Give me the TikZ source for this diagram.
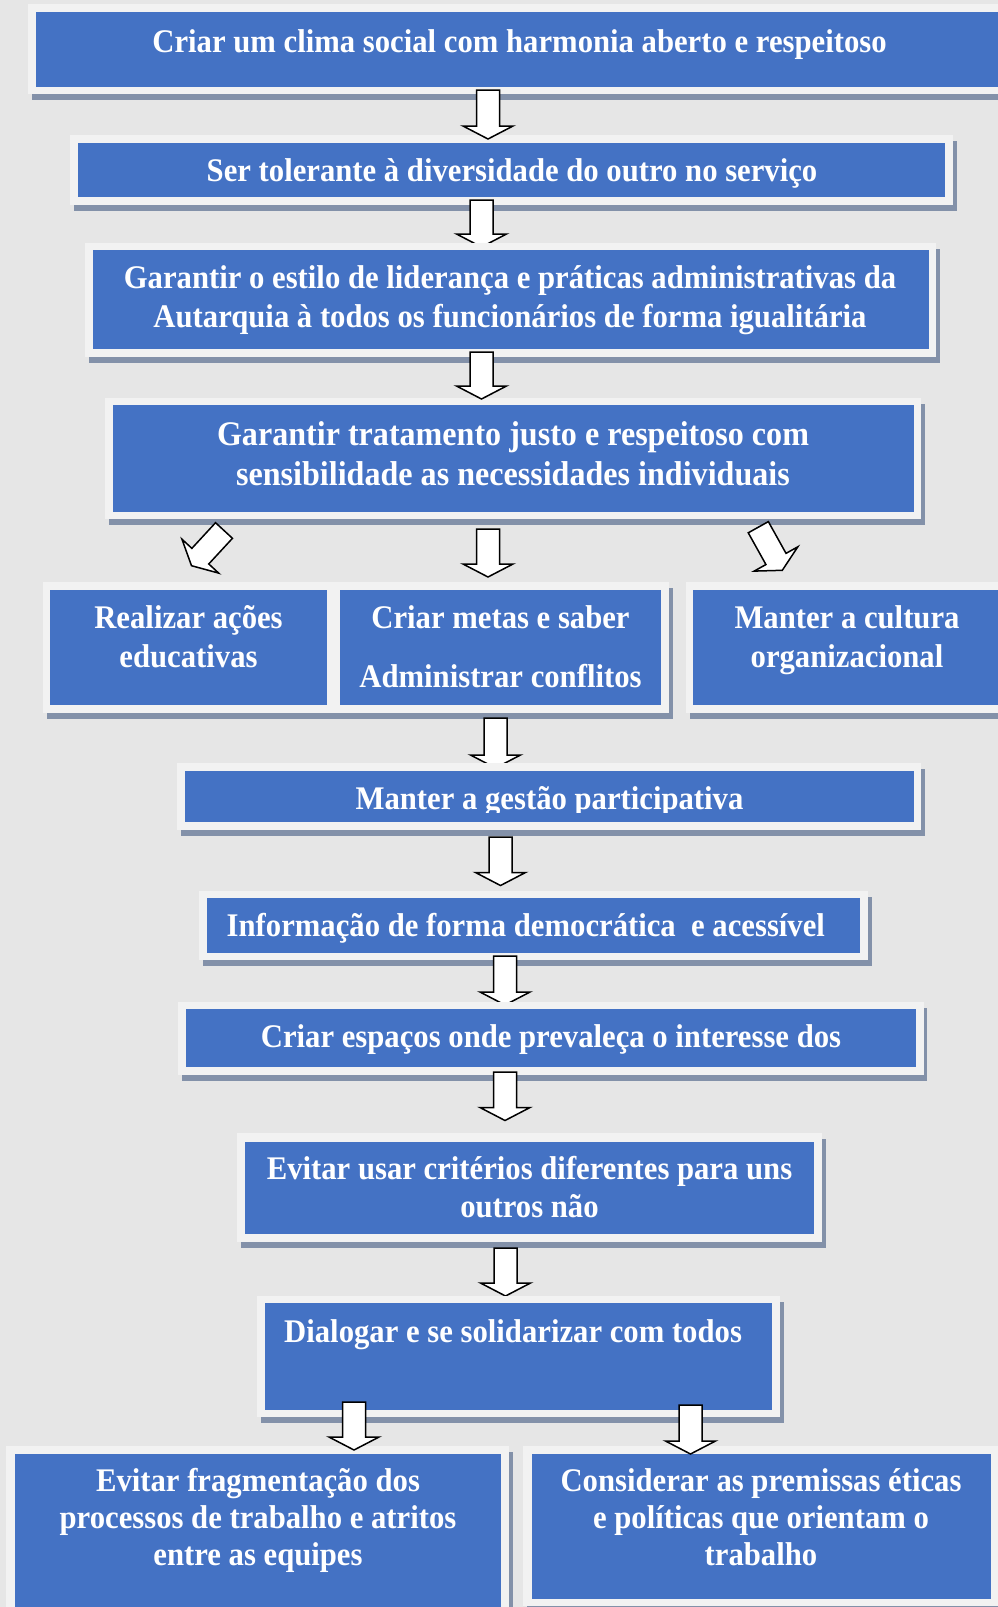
\documentclass[tikz,border=0pt]{standalone}
\usepackage{fontspec}
\setmainfont[FakeStretch=0.93]{Liberation Serif}
\usetikzlibrary{calc}
\definecolor{bgc}{HTML}{E6E6E6}
\definecolor{framec}{HTML}{F2F2F2}
\definecolor{shadc}{HTML}{8391A9}
\definecolor{boxc}{HTML}{4472C4}
\tikzset{
  bluebox/.style={fill=boxc, draw=none, inner sep=0pt, outer sep=0pt},
  barrow/.style={fill=white, draw=black, line width=1.5pt, line join=miter},
  txt/.style={text=white, font=\fontsize{33}{39}\selectfont\bfseries, inner sep=0pt, anchor=base},
  txtbig/.style={txt, font=\fontsize{34.5}{40}\selectfont\bfseries},
  txtw/.style={txt, anchor=base west}
}
\newcommand\mybox[9]{%
  \fill[shadc] ({#2+3.5},{#3+5.5}) rectangle ({#4+3.5},{#5+5.5});
  \fill[framec] (#2,#3) rectangle (#4,#5);
  \node[bluebox, minimum width={#8-#6}, minimum height={#9-#7}] (#1) at ({(#6+#8)/2},{(#7+#9)/2}) {};
}
\newcommand\blockarrow[2]{%
  \path ($(#2)!13pt!(#1)$) coordinate (hb);
  \draw[barrow] ($(#1)!11.5pt!90:(#2)$) -- ($(hb)!11.5pt!90:(#2)$) -- ($(hb)!25pt!90:(#2)$) -- (#2)
    -- ($(hb)!25pt!-90:(#2)$) -- ($(hb)!11.5pt!-90:(#2)$) -- ($(#1)!11.5pt!-90:(#2)$) -- cycle;
}
\begin{document}
\begin{tikzpicture}[x=1pt, y=-1pt]
\useasboundingbox (0,0) rectangle (998,1607);
\clip (0,0) rectangle (998,1607);
\fill[bgc] (0,0) rectangle (998,1607);

% arrow end points
\coordinate (a1s) at (488,90);    \coordinate (a1e) at (488,139);
\coordinate (a2s) at (481.5,200); \coordinate (a2e) at (481.5,247);
\coordinate (a3s) at (481.5,352); \coordinate (a3e) at (481.5,399);
\coordinate (a4s) at (488,529);   \coordinate (a4e) at (488,577);
\coordinate (a5s) at (224,530.5); \coordinate (a5e) at (191.5,565.7);
\coordinate (a6s) at (758.3,527.2); \coordinate (a6e) at (782.3,570.3);
\coordinate (a7s) at (495.5,718); \coordinate (a7e) at (495.5,768);
\coordinate (a8s) at (500.5,837); \coordinate (a8e) at (500.5,885.5);
\coordinate (a9s) at (505,956);   \coordinate (a9e) at (505,1005);
\coordinate (a10s) at (505,1072); \coordinate (a10e) at (505,1120.5);
\coordinate (a11s) at (505.5,1248); \coordinate (a11e) at (505.5,1296);
\coordinate (a12s) at (354,1402); \coordinate (a12e) at (354,1450);
\coordinate (a13s) at (690.5,1405); \coordinate (a13e) at (690.5,1454);

\mybox{b1}{28}{4}{1008}{94}{36}{12}{1000}{87}
\mybox{b2}{70}{135}{953}{205}{78}{143}{945}{197}
\blockarrow{a1s}{a1e}
\blockarrow{a2s}{a2e}
\mybox{b3}{85}{243}{936}{357}{93}{250}{929}{349}
\mybox{b4}{105}{398}{921}{519}{113}{405}{914}{512}
\blockarrow{a3s}{a3e}
\blockarrow{a4s}{a4e}
\blockarrow{a5s}{a5e}
\blockarrow{a6s}{a6e}
\mybox{r1}{43}{582}{334}{713}{50}{590}{327}{705}
\mybox{r2}{332}{582}{669}{713}{340}{590}{661}{705}
\mybox{r3}{686}{582}{1010}{713}{693}{590}{1003}{705}
\blockarrow{a7s}{a7e}
\mybox{b5}{177}{763}{921}{830}{185}{771}{914}{822}
\blockarrow{a8s}{a8e}
\mybox{b6}{199}{891}{868}{960}{207}{898}{860}{953}
\blockarrow{a9s}{a9e}
\mybox{b7}{178}{1002}{923.5}{1075}{186}{1009}{916}{1067}
\blockarrow{a10s}{a10e}
\mybox{b8}{237}{1133}{822}{1242}{245}{1142}{814}{1234}
\blockarrow{a11s}{a11e}
\mybox{b9}{257}{1296}{780}{1417}{265}{1303}{772}{1410}
\mybox{b10}{6}{1446}{509}{1614}{15}{1454}{501}{1608}
\mybox{b11}{523}{1446}{999}{1606}{531.5}{1454}{991}{1599}
\blockarrow{a12s}{a12e}
\blockarrow{a13s}{a13e}

% texts
\node[txt] (t1) at (519.5,52) {Criar um clima social com harmonia aberto e respeitoso};
\node[txt] (t2) at (512,181.7) {Ser tolerante à diversidade do outro no serviço};
\node[txt] (t3a) at (510,288) {Garantir o estilo de liderança e práticas administrativas da};
\node[txt] (t3b) at (510,327) {Autarquia à todos os funcionários de forma igualitária};
\node[txtbig] (t4a) at (513,445) {Garantir tratamento justo e respeitoso com};
\node[txtbig] (t4b) at (513,485) {sensibilidade as necessidades individuais};
\node[txt] (t5a) at (188.5,628) {Realizar ações};
\node[txt] (t5b) at (188.5,667) {educativas};
\node[txt] (t6a) at (500.5,628) {Criar metas e saber};
\node[txt] (t6b) at (500.5,687) {Administrar conflitos};
\node[txt] (t7a) at (847,628) {Manter a cultura};
\node[txt] (t7b) at (847,667) {organizacional};
\begin{scope}
\clip (185,771) rectangle (914,812);
\node[txt] (t8) at (549.5,809) {Manter a gestão participativa};
\end{scope}
\node[txtw] (t9) at (226.5,936) {Informação de forma democrática\ \ e acessível};
\node[txt] (t10) at (551,1047) {Criar espaços onde prevaleça o interesse dos};
\node[txt] (t11a) at (529.5,1179) {Evitar usar critérios diferentes para uns};
\node[txt] (t11b) at (529.5,1217) {outros não};
\node[txtw] (t12) at (284,1342) {Dialogar e se solidarizar com todos};
\node[txt] (t13a) at (258,1491) {Evitar fragmentação dos};
\node[txt] (t13b) at (258,1528) {processos de trabalho e atritos};
\node[txt] (t13c) at (258,1565) {entre as equipes};
\node[txt] (t14a) at (761,1491) {Considerar as premissas éticas};
\node[txt] (t14b) at (761,1528) {e políticas que orientam o};
\node[txt] (t14c) at (761,1565) {trabalho};
\end{tikzpicture}
\end{document}
